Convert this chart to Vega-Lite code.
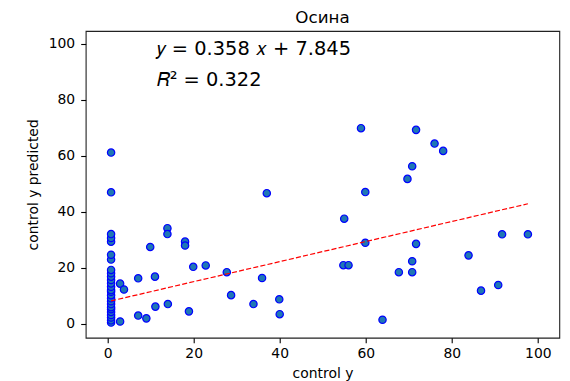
{
  "$schema": "https://vega.github.io/schema/vega-lite/v6.json",
  "autosize": "none",
  "width": 473.6,
  "height": 306.7,
  "padding": {"left": 85.7, "top": 31, "right": 10.7, "bottom": 43.3},
  "background": "white",
  "config": {
    "font": "DejaVu Sans",
    "view": {"stroke": "#222", "strokeWidth": 1.1},
    "axis": {
      "domain": false, "grid": false,
      "tickColor": "#000", "tickSize": 5, "tickWidth": 1.1,
      "labelFont": "DejaVu Sans", "labelFontSize": 13.9, "labelColor": "#000", "labelPadding": 4,
      "titleFont": "DejaVu Sans", "titleFontSize": 13.9, "titleFontWeight": "normal", "titleColor": "#000"
    }
  },
  "title": {"text": "Осина", "font": "DejaVu Sans", "fontSize": 16.7, "fontWeight": "normal", "color": "#000", "offset": 6, "baseline": "bottom", "dy": 19},
  "datasets": {
    "pts": [
      {"x": 0.8, "y": 0.4}, {"x": 0.8, "y": 1.2}, {"x": 0.8, "y": 2.2}, {"x": 0.8, "y": 3.1}, {"x": 0.8, "y": 4.2},
      {"x": 0.8, "y": 5.2}, {"x": 0.8, "y": 5.9}, {"x": 0.8, "y": 7.0}, {"x": 0.8, "y": 8.0}, {"x": 0.8, "y": 9.1},
      {"x": 0.8, "y": 10.2}, {"x": 0.8, "y": 11.4}, {"x": 0.8, "y": 12.0}, {"x": 0.8, "y": 13.2}, {"x": 0.8, "y": 14.4},
      {"x": 0.8, "y": 15.6}, {"x": 0.8, "y": 16.8}, {"x": 0.8, "y": 18.0}, {"x": 0.8, "y": 19.2}, {"x": 0.8, "y": 22.9},
      {"x": 0.8, "y": 24.6}, {"x": 0.8, "y": 29.3}, {"x": 0.8, "y": 30.6}, {"x": 0.8, "y": 32.0}, {"x": 0.8, "y": 46.9},
      {"x": 0.8, "y": 61.1},
      {"x": 2.9, "y": 0.8}, {"x": 2.9, "y": 14.3}, {"x": 3.8, "y": 12.2}, {"x": 7.1, "y": 16.2}, {"x": 7.1, "y": 2.9},
      {"x": 9.0, "y": 1.9}, {"x": 9.9, "y": 27.4}, {"x": 11.0, "y": 16.8}, {"x": 11.1, "y": 6.1}, {"x": 13.9, "y": 34.1},
      {"x": 13.9, "y": 32.0}, {"x": 14.0, "y": 7.0}, {"x": 18.0, "y": 29.3}, {"x": 18.0, "y": 27.9}, {"x": 18.9, "y": 4.4},
      {"x": 19.9, "y": 20.3}, {"x": 22.8, "y": 20.8}, {"x": 27.7, "y": 18.4}, {"x": 28.7, "y": 10.2}, {"x": 33.9, "y": 7.0},
      {"x": 35.9, "y": 16.3}, {"x": 37.0, "y": 46.6}, {"x": 39.9, "y": 8.7}, {"x": 40.0, "y": 3.4}, {"x": 54.8, "y": 20.9},
      {"x": 55.0, "y": 37.5}, {"x": 56.0, "y": 20.9}, {"x": 58.9, "y": 69.8}, {"x": 59.9, "y": 47.0}, {"x": 59.9, "y": 28.9},
      {"x": 63.9, "y": 1.4}, {"x": 67.7, "y": 18.4}, {"x": 69.7, "y": 51.7}, {"x": 70.8, "y": 56.2}, {"x": 70.8, "y": 22.3},
      {"x": 70.8, "y": 18.4}, {"x": 71.7, "y": 69.2}, {"x": 71.7, "y": 28.5}, {"x": 76.0, "y": 64.3}, {"x": 78.0, "y": 61.7},
      {"x": 83.9, "y": 24.4}, {"x": 86.8, "y": 11.8}, {"x": 90.8, "y": 13.8}, {"x": 91.7, "y": 31.9}, {"x": 97.7, "y": 31.9}
    ],
    "fit": [{"x": 0.8, "y": 8.13}, {"x": 97.7, "y": 42.82}],
    "notes": [
      {"x": 11.4, "y": 95.8, "label": "𝑦 = 0.358 𝑥 + 7.845"},
      {"x": 11.4, "y": 84.7, "label": "𝑅² = 0.322"}
    ]
  },
  "layer": [
    {
      "data": {"name": "pts"},
      "mark": {"type": "point", "shape": "circle", "filled": true, "fill": "#1f77b4", "stroke": "#0000ff", "strokeWidth": 1.2, "size": 54, "opacity": 1},
      "encoding": {
        "x": {"field": "x", "type": "quantitative", "scale": {"domain": [-5.1, 105], "nice": false, "zero": false},
              "axis": {"values": [0, 20, 40, 60, 80, 100], "title": "control y", "titlePadding": 6}},
        "y": {"field": "y", "type": "quantitative", "scale": {"domain": [-5, 104.5], "nice": false, "zero": false},
              "axis": {"values": [0, 20, 40, 60, 80, 100], "title": "control y predicted", "labelPadding": 6, "titlePadding": 8}}
      }
    },
    {
      "data": {"name": "fit"},
      "mark": {"type": "line", "color": "#ff0000", "strokeWidth": 1.2, "strokeDash": [5.1, 2.2]},
      "encoding": {
        "x": {"field": "x", "type": "quantitative"},
        "y": {"field": "y", "type": "quantitative"}
      }
    },
    {
      "data": {"name": "notes"},
      "mark": {"type": "text", "align": "left", "baseline": "alphabetic", "fontSize": 19.4, "color": "#000", "font": "DejaVu Sans"},
      "encoding": {
        "x": {"field": "x", "type": "quantitative"},
        "y": {"field": "y", "type": "quantitative"},
        "text": {"field": "label"}
      }
    }
  ]
}
